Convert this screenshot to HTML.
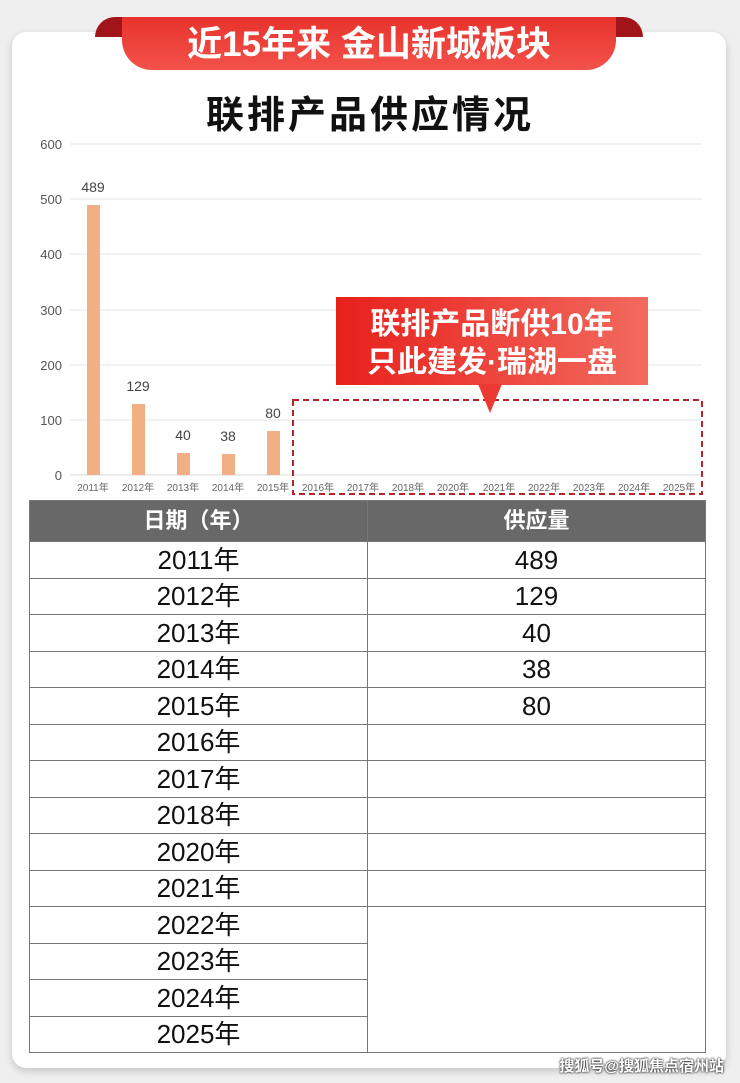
<!DOCTYPE html>
<html><head><meta charset="utf-8"><style>
body{margin:0;width:740px;height:1083px;background:#efefef;position:relative;overflow:hidden;font-family:"Liberation Sans","Noto Sans CJK SC",sans-serif}
.card{position:absolute;left:12px;top:32px;width:714px;height:1036px;background:#fff;border-radius:14px;box-shadow:0 3px 8px rgba(0,0,0,.18)}
.rib{position:absolute;left:122px;top:17px;width:494px;height:53px;background:linear-gradient(#e8322d,#f2524a);border-radius:0 0 30px 30px;color:#fff;font-weight:bold;font-size:35px;text-align:center;line-height:56px;white-space:nowrap}
.ear{position:absolute;top:17px;width:40px;height:20px;background:#a0141a}
.title{position:absolute;left:0;width:740px;top:84px;text-align:center;font-size:38px;font-weight:bold;color:#111;letter-spacing:3px}
table{position:absolute;left:29px;top:500px;width:677px;border-collapse:collapse;font-size:26px}
tr{height:36.5px}
td,th{border:1.5px solid #777;text-align:center;padding:0;color:#111;line-height:30px}
th{background:#686868;color:#fff;font-size:22px;height:40px}
.wm{position:absolute;right:16px;top:1055px;font-size:15px;color:#fff;text-shadow:0 0 2px #333,0 0 2px #333;font-weight:bold}
</style></head><body>
<div class="card"></div>
<div class="ear" style="left:95px;border-radius:20px 0 0 0"></div>
<div class="ear" style="left:603px;border-radius:0 20px 0 0"></div>
<div class="rib">近15年来 金山新城板块</div>
<div class="title">联排产品供应情况</div>
<svg style="position:absolute;left:0;top:0" width="740" height="500" font-family="Liberation Sans,Noto Sans CJK SC,sans-serif">
<g stroke="#e6e6e6" stroke-width="1">
<line x1="70" x2="702" y1="144" y2="144"/><line x1="70" x2="702" y1="199" y2="199"/><line x1="70" x2="702" y1="254" y2="254"/><line x1="70" x2="702" y1="310" y2="310"/><line x1="70" x2="702" y1="365" y2="365"/><line x1="70" x2="702" y1="420" y2="420"/><line x1="70" x2="702" y1="475" y2="475" stroke="#d8d8d8"/></g>
<g font-size="13" fill="#555" text-anchor="end">
<text x="62" y="149">600</text><text x="62" y="204">500</text><text x="62" y="259">400</text><text x="62" y="315">300</text><text x="62" y="370">200</text><text x="62" y="425">100</text><text x="62" y="480">0</text></g>
<g fill="#f0b083">
<rect x="87" y="205" width="13" height="270"/><rect x="132" y="404" width="13" height="71"/><rect x="177" y="453" width="13" height="22"/><rect x="222" y="454" width="13" height="21"/><rect x="267" y="431" width="13" height="44"/></g>
<g font-size="14" fill="#444" text-anchor="middle">
<text x="93" y="192">489</text><text x="138" y="391">129</text><text x="183" y="440">40</text><text x="228" y="441">38</text><text x="273" y="418">80</text></g>
<g font-size="10" fill="#666" text-anchor="middle">
<text x="93" y="491">2011年</text><text x="138" y="491">2012年</text><text x="183" y="491">2013年</text><text x="228" y="491">2014年</text><text x="273" y="491">2015年</text><text x="318" y="491">2016年</text><text x="363" y="491">2017年</text><text x="408" y="491">2018年</text><text x="453" y="491">2020年</text><text x="499" y="491">2021年</text><text x="544" y="491">2022年</text><text x="589" y="491">2023年</text><text x="634" y="491">2024年</text><text x="679" y="491">2025年</text></g>
<rect x="293" y="400" width="409" height="94" fill="none" stroke="#b5242a" stroke-width="2" stroke-dasharray="6,4"/>
<defs><linearGradient id="g" x1="0" x2="1"><stop offset="0" stop-color="#e8201c"/><stop offset="1" stop-color="#f26a5e"/></linearGradient></defs>
<rect x="336" y="297" width="312" height="88" fill="url(#g)"/>
<polygon points="478,384 502,384 490,413" fill="#ec3a33"/>
<g fill="#fff" font-size="30" font-weight="bold" text-anchor="middle"><text x="492" y="334">联排产品断供10年</text><text x="492" y="372">只此建发·瑞湖一盘</text></g>
</svg>
<table>
<tr><th style="width:337px">日期（年）</th><th>供应量</th></tr>
<tr><td>2011年</td><td>489</td></tr>
<tr><td>2012年</td><td>129</td></tr>
<tr><td>2013年</td><td>40</td></tr>
<tr><td>2014年</td><td>38</td></tr>
<tr><td>2015年</td><td>80</td></tr>
<tr><td>2016年</td><td></td></tr>
<tr><td>2017年</td><td></td></tr>
<tr><td>2018年</td><td></td></tr>
<tr><td>2020年</td><td></td></tr>
<tr><td>2021年</td><td></td></tr>
<tr><td>2022年</td><td rowspan="4"></td></tr>
<tr><td>2023年</td></tr>
<tr><td>2024年</td></tr>
<tr><td>2025年</td></tr>
</table>
<div class="wm">搜狐号@搜狐焦点宿州站</div>
</body></html>
